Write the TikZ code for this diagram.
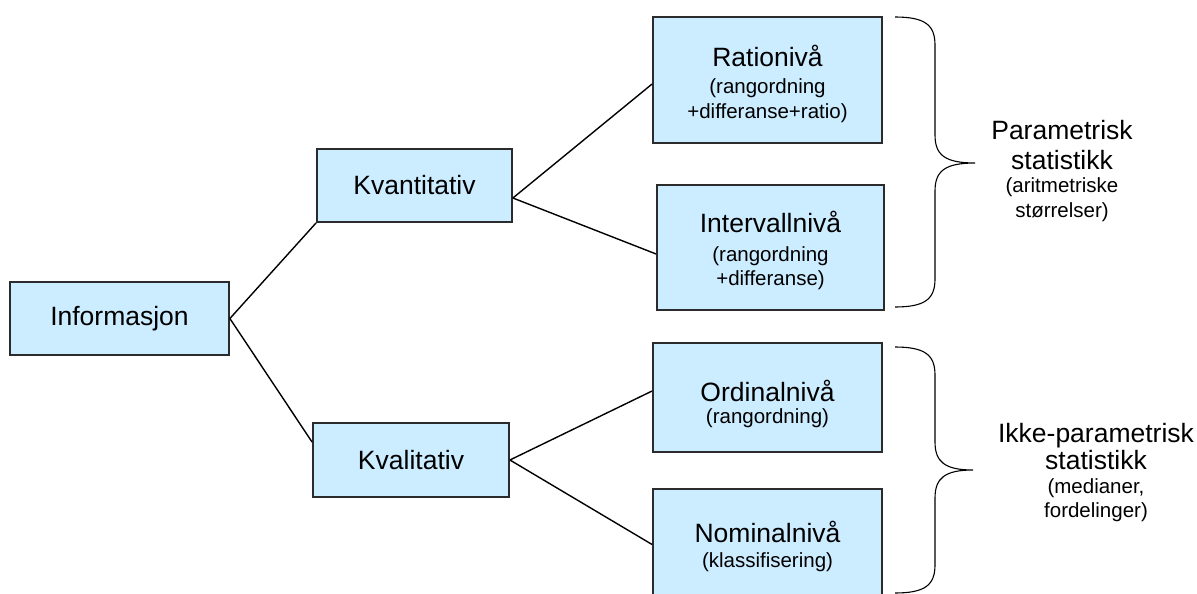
\documentclass[tikz,border=0pt]{standalone}
\usepackage{fontspec}
\setmainfont{Liberation Sans}
\usetikzlibrary{calc}
\definecolor{boxfill}{HTML}{CCECFF}
\definecolor{boxline}{HTML}{2B2B2B}
\begin{document}
\begin{tikzpicture}[x=1pt,y=-1pt,
  box/.style={draw=boxline, line width=1.8pt, fill=boxfill, inner sep=0pt,
    font=\fontsize{26.5}{26.5}\selectfont},
  title/.style={anchor=base, inner sep=0pt, font=\fontsize{26.5}{26.5}\selectfont},
  note/.style={anchor=base, inner sep=0pt, font=\fontsize{20.5}{20.5}\selectfont},
  link/.style={draw=black, line width=1.4pt},
  brace/.style={draw=black, line width=1.1pt}]
\useasboundingbox (0,0) rectangle (1197,594);

% tree of data levels
\node[box, minimum width=219pt, minimum height=73pt] (info) at (119.5,318.5) {Informasjon};
\node[box, minimum width=195pt, minimum height=73pt] (kvant) at (414.5,185.5) {Kvantitativ};
\node[box, minimum width=196pt, minimum height=74pt] (kval) at (411,460) {Kvalitativ};

\node[box, minimum width=229pt, minimum height=126pt] (ratio) at (767.5,80) {};
\node[box, minimum width=227pt, minimum height=125pt] (interv) at (770.5,247.5) {};
\node[box, minimum width=229pt, minimum height=109pt] (ordinal) at (767.5,397.5) {};
\node[box, minimum width=229pt, minimum height=111pt] (nominal) at (767.5,544.5) {};

% box texts, one line per node, set on their baselines
\node[title] (ratio-t)  at (ratio.center |- 0,66.5) {Rationivå};
\node[note]  (ratio-a)  at (ratio.center |- 0,93)   {(rangordning};
\node[note]  (ratio-b)  at (ratio.center |- 0,118)  {+differanse+ratio)};
\node[title] (interv-t) at (interv.center |- 0,232.5) {Intervallnivå};
\node[note]  (interv-a) at (interv.center |- 0,261)   {(rangordning};
\node[note]  (interv-b) at (interv.center |- 0,285)   {+differanse)};
\node[title] (ordinal-t) at (ordinal.center |- 0,401.5) {Ordinalnivå};
\node[note]  (ordinal-a) at (ordinal.center |- 0,423)   {(rangordning)};
\node[title] (nominal-t) at (nominal.center |- 0,542.5) {Nominalnivå};
\node[note]  (nominal-a) at (nominal.center |- 0,567)   {(klassifisering)};

% connectors
\draw[link] (info.east) -- (kvant.south west);
\draw[link] (info.east) -- ([yshift=-20pt]kval.north west);
\draw[link] ([yshift=-12.5pt]kvant.east) -- ([yshift=-4pt]ratio.west);
\draw[link] ([yshift=-12.5pt]kvant.east) -- ([yshift=-6.5pt]interv.west);
\draw[link] (kval.east) -- ([yshift=6.5pt]ordinal.west);
\draw[link] (kval.east) -- (nominal.west);

% curly braces
\draw[brace] (895,17) .. controls (925,17) and (935,25) .. (935,45)
  -- (935,135) .. controls (935,155) and (945,163) .. (975,163)
  .. controls (945,163) and (935,171) .. (935,191)
  -- (935,279) .. controls (935,299) and (925,307) .. (895,307);
\draw[brace] (895,347) .. controls (925,347) and (935,355) .. (935,375)
  -- (935,442) .. controls (935,462) and (945,470) .. (973,470)
  .. controls (945,470) and (935,478) .. (935,498)
  -- (935,565) .. controls (935,585) and (925,593) .. (895,593);

% brace labels
\node[title] (param-t) at (1062,139.5) {Parametrisk};
\node[title] (param-s) at (1062,169.5) {statistikk};
\node[note]  (param-a) at (1062,192)   {(aritmetriske};
\node[note]  (param-b) at (1062,217)   {størrelser)};
\node[title] (ikke-t) at (1096,442.5) {Ikke-parametrisk};
\node[title] (ikke-s) at (1096,469.5) {statistikk};
\node[note]  (ikke-a) at (1096,493)   {(medianer,};
\node[note]  (ikke-b) at (1096,517)   {fordelinger)};
\end{tikzpicture}
\end{document}
